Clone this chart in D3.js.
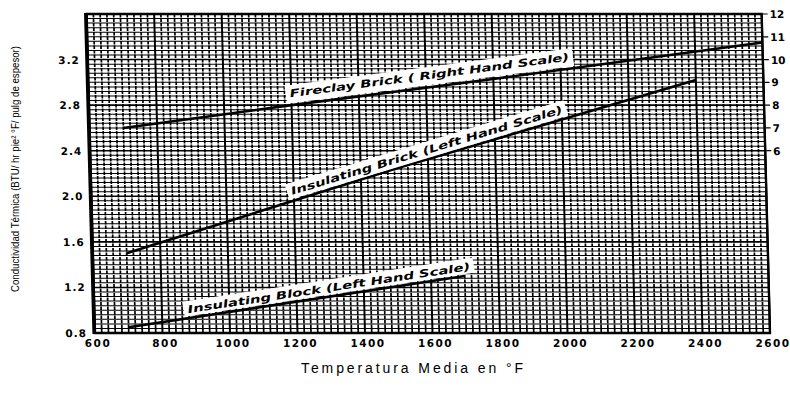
<!DOCTYPE html>
<html lang="en">
<head>
<meta charset="utf-8">
<title>Conductividad Termica</title>
<script src="https://d3js.org/d3.v7.min.js"></script>
<style>
body { margin: 0; background: #fff; }
svg { display: block; }
.num { font-family: "DejaVu Sans", sans-serif; font-weight: bold; font-size: 10.5px; fill: #000; }
.lbl { font-family: "DejaVu Sans", sans-serif; font-weight: bold; font-style: italic; font-size: 10.5px; fill: #000; }
</style>
</head>
<body>
<script>
var width = 790;
var height = 400;

// values
var tempTicks = [600, 800, 1000, 1200, 1400, 1600, 1800, 2000, 2200, 2400, 2600];
var leftTicks = [0.8, 1.2, 1.6, 2.0, 2.4, 2.8, 3.2];
var rightTicks = [6, 7, 8, 9, 10, 11, 12];

var fireclayTemp = [700, 1200, 1800, 2600];
var fireclayK = [7.0, 8.0, 9.15, 10.75];   // right hand scale
var brickTemp = [700, 1500, 2400];
var brickK = [1.5, 2.24, 3.02];            // left hand scale
var blockTemp = [700, 1700];
var blockK = [0.85, 1.30];                 // left hand scale

var svg = d3.select('body').append('svg')
  .attr('width', width)
  .attr('height', height);

var x = d3.scaleLinear().domain([600, 2600]).range([95, 770]);
var yL = d3.scaleLinear().domain([0.8, 3.6]).range([333, 14]);
var yR = d3.scaleLinear().domain([-2, 12]).range([333, 14]);

// the scanned sheet leans a little, so the plot is sheared
var skew = 1.5;
var t = Math.tan(skew * Math.PI / 180);
var g = svg.append('g')
  .attr('transform', 'translate(' + (-t * 333) + ',0) skewX(' + skew + ')');

// grid
var vLines = d3.range(600, 2601, 20);
var hLines = d3.range(0, 71).map(function(i) { return 0.8 + i * 0.04; });

g.append('g').selectAll('line')
  .data(hLines).enter().append('line')
  .attr('x1', x(600)).attr('x2', x(2600))
  .attr('y1', function(d) { return yL(d); })
  .attr('y2', function(d) { return yL(d); })
  .attr('stroke', '#000')
  .attr('stroke-width', function(d, i) { return i % 10 === 0 ? 1.6 : 1.0; });

g.append('g').selectAll('line')
  .data(vLines).enter().append('line')
  .attr('x1', function(d) { return x(d); })
  .attr('x2', function(d) { return x(d); })
  .attr('y1', yL(3.6)).attr('y2', yL(0.8))
  .attr('stroke', '#000')
  .attr('stroke-width', function(d) { return d % 200 === 0 ? 2 : 1.7; })
  .attr('stroke-dasharray', function(d) { return d % 200 === 0 ? null : '3.5,1'; });

// frame
g.append('rect')
  .attr('x', x(600)).attr('y', yL(3.6))
  .attr('width', x(2600) - x(600)).attr('height', yL(0.8) - yL(3.6))
  .attr('fill', 'none').attr('stroke', '#000').attr('stroke-width', 2.4);
g.append('line')
  .attr('x1', x(600) - 1).attr('x2', x(600) - 1)
  .attr('y1', yL(3.6) - 1).attr('y2', yL(0.8) + 1)
  .attr('stroke', '#000').attr('stroke-width', 3.2);

// curves
var lineL = d3.line().x(function(d) { return x(d[0]); }).y(function(d) { return yL(d[1]); });
var lineR = d3.line().x(function(d) { return x(d[0]); }).y(function(d) { return yR(d[1]); });

function addCurve(temps, vals, gen) {
  g.append('path')
    .datum(d3.zip(temps, vals))
    .attr('d', gen)
    .attr('fill', 'none')
    .attr('stroke', '#000')
    .attr('stroke-width', 2.6);
}
addCurve(fireclayTemp, fireclayK, lineR);
addCurve(brickTemp, brickK, lineL);
addCurve(blockTemp, blockK, lineL);

// labels riding on the curves, on a white band
function addLabel(txt, temps, vals, yScale, t0, t1, lift) {
  var f = d3.scaleLinear().domain(temps).range(vals);
  var x0 = x(t0), y0 = yScale(f(t0));
  var x1 = x(t1), y1 = yScale(f(t1));
  var len = Math.sqrt((x1 - x0) * (x1 - x0) + (y1 - y0) * (y1 - y0));
  var ang = Math.atan2(y1 - y0, x1 - x0) * 180 / Math.PI;
  var lg = g.append('g')
    .attr('transform', 'translate(' + x0 + ',' + y0 + ') rotate(' + ang + ')');
  lg.append('rect')
    .attr('x', -4).attr('y', -lift - 12)
    .attr('width', len + 8).attr('height', lift + 10)
    .attr('fill', '#fff');
  lg.append('text')
    .attr('class', 'lbl')
    .attr('x', 0).attr('y', -lift)
    .attr('textLength', len)
    .attr('lengthAdjust', 'spacingAndGlyphs')
    .text(txt);
}
addLabel('Fireclay Brick  ( Right Hand Scale)', fireclayTemp, fireclayK, yR, 1200, 2030, 8);
addLabel('Insulating Brick (Left Hand Scale)', brickTemp, brickK, yL, 1200, 2010, 6);
addLabel('Insulating Block (Left Hand Scale)', blockTemp, blockK, yL, 880, 1720, 5);

// left scale
g.append('g').selectAll('text')
  .data(leftTicks).enter().append('text')
  .attr('class', 'num')
  .attr('x', x(600) - 8)
  .attr('y', function(d) { return yL(d) + 4; })
  .attr('text-anchor', 'end')
  .attr('letter-spacing', 1)
  .text(function(d) { return d.toFixed(1); });

// right scale
var rt = g.append('g').selectAll('g')
  .data(rightTicks).enter().append('g');
rt.append('line')
  .attr('x1', x(2600) + 1).attr('x2', x(2600) + 6)
  .attr('y1', function(d) { return yR(d); })
  .attr('y2', function(d) { return yR(d); })
  .attr('stroke', '#000').attr('stroke-width', 1.2);
rt.append('text')
  .attr('class', 'num')
  .attr('x', x(2600) + 8)
  .attr('y', function(d) { return yR(d) + 4; })
  .text(function(d) { return d; });

// bottom scale
svg.append('g').selectAll('text')
  .data(tempTicks).enter().append('text')
  .attr('class', 'num')
  .attr('x', function(d) { return x(d) + 3; })
  .attr('y', 347)
  .attr('text-anchor', 'middle')
  .attr('letter-spacing', 1.5)
  .text(function(d) { return d; });

// axis titles
svg.append('text')
  .attr('x', 412).attr('y', 373)
  .attr('text-anchor', 'middle')
  .attr('font-family', '"Liberation Sans", Arial, sans-serif')
  .attr('font-size', 14)
  .attr('textLength', 222)
  .text('Temperatura Media en °F');

svg.append('text')
  .attr('transform', 'translate(19,169) rotate(-90)')
  .attr('text-anchor', 'middle')
  .attr('font-family', '"Liberation Sans", Arial, sans-serif')
  .attr('font-size', 11)
  .attr('textLength', 246)
  .attr('lengthAdjust', 'spacingAndGlyphs')
  .text('Conductividad Térmica (BTU/ hr pie² °F/ pulg  de espesor)');
</script>
</body>
</html>
